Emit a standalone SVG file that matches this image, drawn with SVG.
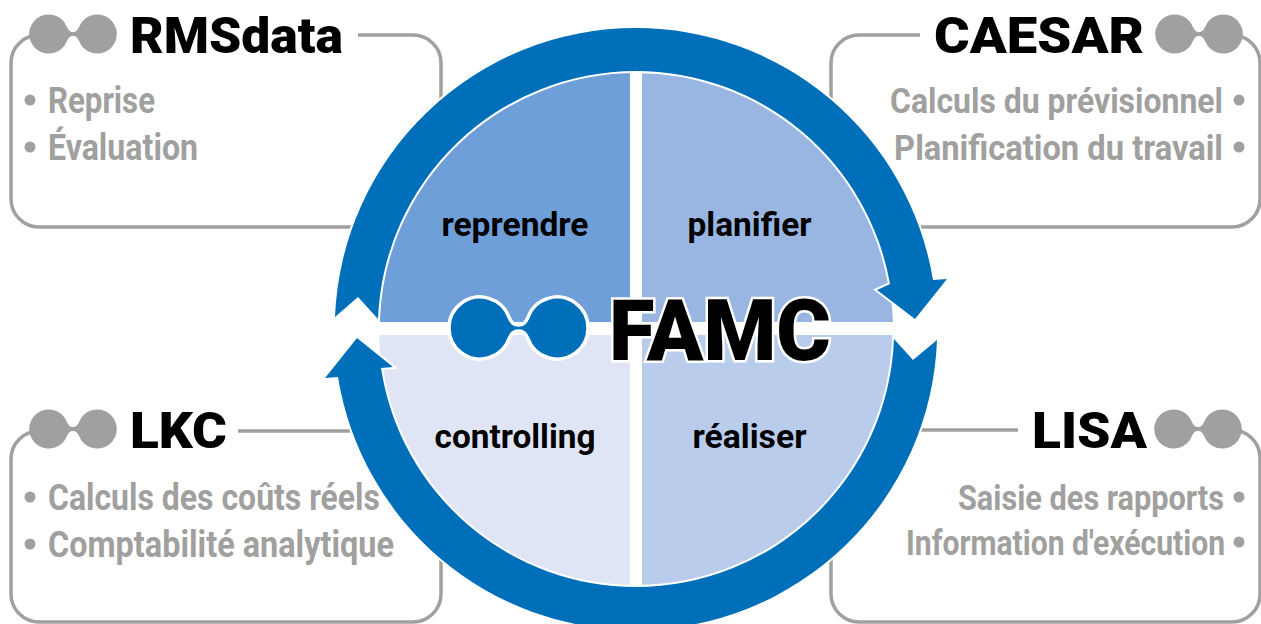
<svg xmlns="http://www.w3.org/2000/svg" xmlns:xlink="http://www.w3.org/1999/xlink" width="1261" height="624" viewBox="0 0 1261 624">
<style>
.box{fill:none;stroke:#a0a09e;stroke-width:3.5}
.title{font-family:"Roboto","Liberation Sans",sans-serif;font-weight:900;font-size:50px;fill:#000}
.item{font-family:"Liberation Sans Narrow","Roboto",sans-serif;font-weight:700;font-size:36px;fill:#a0a09e}
.end{text-anchor:end}
.phase{font-family:"Liberation Sans Narrow","Roboto",sans-serif;font-weight:700;font-size:33px;fill:#000;text-anchor:middle}
.dot{fill:#a0a09e}
.grey{fill:#a0a09e}
.arrow{fill:#006fba;stroke:#fff;stroke-width:4;stroke-linejoin:miter;stroke-miterlimit:6;paint-order:stroke}
</style>
<defs>
<path id="glasses" d="M-9.4,-10.6 C-7,-5.500 -5,-3 0,-3 C5,-3 7,-5.500 9.4,-10.6 A31,31 0 1 1 9.4,10.6 C7,5.500 5,3 0,3 C-5,3 -7,5.500 -9.4,10.6 A31,31 0 1 1 -9.4,-10.6 Z"/>
</defs>
<rect width="1261" height="624" fill="#fff"/>

<g id="rmsdata">
<path class="box" d="M358,35 H413 A28,28 0 0 1 441,63 V199 A28,28 0 0 1 413,227 H39 A28,28 0 0 1 11,199 V63 A28,28 0 0 1 39,35 H50"/>
<use xlink:href="#glasses" href="#glasses" class="grey" transform="translate(73,34) scale(.63)"/>
<text class="title" x="130" y="53" textLength="213" lengthAdjust="spacingAndGlyphs">RMSdata</text>
<circle class="dot" cx="30" cy="100" r="5.5"/><circle class="dot" cx="30" cy="147" r="5.5"/>
<text class="item" x="48" y="113" textLength="107" lengthAdjust="spacingAndGlyphs">Reprise</text>
<text class="item" x="48" y="160" textLength="150" lengthAdjust="spacingAndGlyphs">Évaluation</text>
</g>

<g id="caesar">
<path class="box" d="M920,35 H859 A28,28 0 0 0 831,63 V199 A28,28 0 0 0 859,227 H1232 A28,28 0 0 0 1260,199 V63 A28,28 0 0 0 1232,35 H1220"/>
<use xlink:href="#glasses" href="#glasses" class="grey" transform="translate(1199,34) scale(.63)"/>
<text class="title end" x="1144" y="53" textLength="210" lengthAdjust="spacingAndGlyphs">CAESAR</text>
<circle class="dot" cx="1239" cy="100" r="5.5"/><circle class="dot" cx="1239" cy="147" r="5.5"/>
<text class="item end" transform="translate(1223,113) scale(.85,1)" textLength="391.800" lengthAdjust="spacingAndGlyphs">Calculs du prévisionnel</text>
<text class="item end" transform="translate(1223,160) scale(.85,1)" textLength="387" lengthAdjust="spacingAndGlyphs">Planification du travail</text>
</g>

<g id="lkc">
<path class="box" d="M238,431 H413 A28,28 0 0 1 441,459 V594 A28,28 0 0 1 413,622 H39 A28,28 0 0 1 11,594 V459 A28,28 0 0 1 39,431 H50"/>
<use xlink:href="#glasses" href="#glasses" class="grey" transform="translate(73,429) scale(.63)"/>
<text class="title" x="130" y="448" textLength="97" lengthAdjust="spacingAndGlyphs">LKC</text>
<circle class="dot" cx="30" cy="497" r="5.5"/><circle class="dot" cx="30" cy="544" r="5.5"/>
<text class="item" x="48" y="510" textLength="332" lengthAdjust="spacingAndGlyphs">Calculs des coûts réels</text>
<text class="item" x="48" y="557" textLength="346" lengthAdjust="spacingAndGlyphs">Comptabilité analytique</text>
</g>

<g id="lisa">
<path class="box" d="M1018,430 H859 A28,28 0 0 0 831,458 V594 A28,28 0 0 0 859,622 H1232 A28,28 0 0 0 1260,594 V458 A28,28 0 0 0 1232,430 H1220"/>
<use xlink:href="#glasses" href="#glasses" class="grey" transform="translate(1198,429) scale(.63)"/>
<text class="title end" x="1147" y="448" textLength="115" lengthAdjust="spacingAndGlyphs">LISA</text>
<circle class="dot" cx="1239" cy="497" r="5.5"/><circle class="dot" cx="1239" cy="542" r="5.5"/>
<text class="item end" transform="translate(1224,510) scale(.85,1)" textLength="313" lengthAdjust="spacingAndGlyphs">Saisie des rapports</text>
<text class="item end" transform="translate(1225,555) scale(.85,1)" textLength="375.300" lengthAdjust="spacingAndGlyphs">Information d'exécution</text>
</g>

<g id="reprendre">
<path fill="#6f9fd8" d="M630,322 H379.1 A257,257 0 0 1 630,72.1 Z"/>
<text class="phase" x="515" y="236" textLength="147" lengthAdjust="spacingAndGlyphs">reprendre</text>
</g>
<g id="planifier">
<path fill="#99b6e2" d="M642,322 H892.9 A257,257 0 0 0 642,72.1 Z"/>
<text class="phase" x="749.500" y="236" textLength="124" lengthAdjust="spacingAndGlyphs">planifier</text>
</g>
<g id="controlling">
<path fill="#dfe5f5" d="M630,335 H379.1 A257,257 0 0 0 630,585.900 Z"/>
<text class="phase" x="515" y="448" textLength="161" lengthAdjust="spacingAndGlyphs">controlling</text>
</g>
<g id="realiser">
<path fill="#b9cceb" d="M642,335 H892.9 A257,257 0 0 1 642,585.900 Z"/>
<text class="phase" x="749.500" y="448" textLength="114" lengthAdjust="spacingAndGlyphs">réaliser</text>
</g>

<g id="connectors">
<path class="arrow" d="M335,317 A301,301 0 0 1 636,28 A301,301 0 0 1 933,280 L947,279 L915,319 L877,290 L890,284 A258,258 0 0 0 636,71 A258,258 0 0 0 378,319 L358,297 Z"/>
<path class="arrow" d="M894,339 L913,360 L937,340 A301,301 0 0 1 636,630 A301,301 0 0 1 338,377 L325,378 L357,338 L393,367 L381,368 A258,258 0 0 0 636,587 A258,258 0 0 0 894,339 Z"/>
</g>

<g id="famc">
<use xlink:href="#glasses" href="#glasses" fill="#006fba" stroke="#fff" stroke-width="3.500" transform="translate(518.500,328)"/>
<text x="609" y="360" textLength="222" lengthAdjust="spacingAndGlyphs" font-family="Roboto,'Liberation Sans',sans-serif" font-weight="900" font-size="86" fill="#000" stroke="#fff" stroke-width="5" paint-order="stroke" stroke-linejoin="miter">FAMC</text>
</g>
</svg>
